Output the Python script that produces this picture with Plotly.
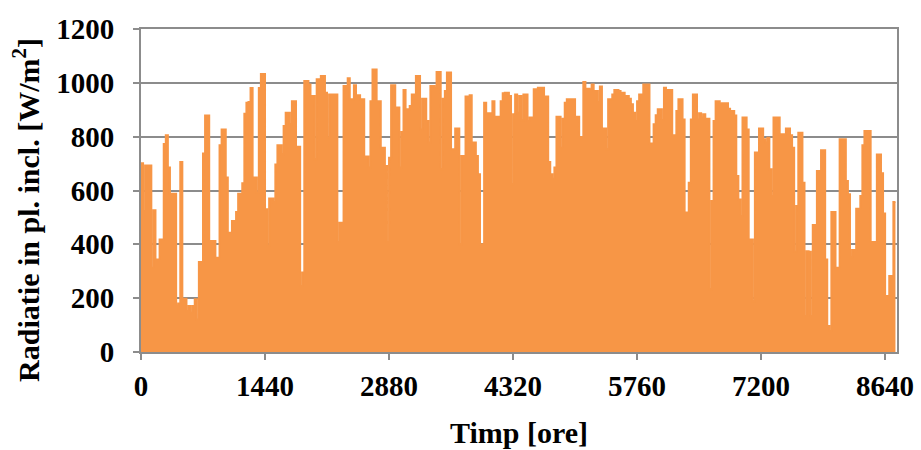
import plotly.graph_objects as go

# Daily peak irradiance on the inclined plane [W/m2], one value per day, by month
jan = [701, 524, 693, 693, 693, 313, 527, 344, 344, 418, 418, 773, 805, 685, 588, 588,
       588, 173, 180, 706, 198, 198, 152, 171, 146, 171, 196, 121, 334, 334, 737]
feb = [879, 879, 412, 412, 412, 350, 350, 768, 827, 827, 648, 443, 443, 487, 487, 520,
       588, 588, 627, 885, 926, 929, 981, 648, 648, 592, 981, 1033]
mar = [1033, 530, 394, 570, 570, 555, 697, 768, 768, 734, 840, 889, 889, 846, 932, 932,
       763, 763, 245, 295, 1007, 1007, 994, 951, 951, 716, 1013, 1013, 1025, 1025, 963]
apr = [796, 957, 957, 957, 957, 409, 480, 480, 988, 988, 1017, 939, 939, 991, 954, 954,
       939, 939, 726, 726, 685, 932, 1050, 1050, 932, 932, 759, 759, 691, 409]
may = [722, 991, 991, 908, 908, 685, 817, 973, 902, 902, 914, 957, 957, 1025, 1025, 827,
       941, 941, 858, 778, 988, 988, 982, 1040, 1040, 679, 941, 970, 1038, 1038, 753]
jun = [753, 830, 830, 400, 728, 728, 949, 949, 954, 778, 778, 728, 660, 400, 400, 926,
       887, 887, 887, 932, 874, 874, 874, 932, 961, 963, 963, 951, 623, 883]
jul = [957, 889, 951, 861, 957, 957, 858, 871, 871, 976, 976, 982, 982, 982, 949, 949,
       706, 660, 644, 685, 874, 874, 759, 867, 926, 939, 939, 939, 939, 874, 874]
aug = [796, 799, 1003, 978, 978, 973, 994, 970, 970, 929, 986, 830, 830, 753, 939, 939,
       957, 973, 973, 970, 963, 963, 951, 951, 941, 920, 889, 858, 932, 957, 957]
sep = [994, 994, 994, 775, 775, 846, 880, 902, 902, 862, 982, 973, 973, 973, 805, 805,
       895, 939, 939, 864, 518, 518, 629, 864, 957, 957, 864, 887, 871, 883]
oct_ = [867, 867, 233, 561, 858, 932, 932, 920, 924, 924, 924, 904, 895, 895, 879, 654,
        567, 505, 871, 871, 827, 418, 418, 189, 741, 741, 830, 830, 790, 778, 796]
nov = [679, 580, 871, 871, 871, 809, 809, 809, 830, 830, 805, 759, 372, 542, 815, 815,
       629, 134, 374, 372, 134, 472, 472, 672, 672, 750, 750, 344, 97, 78]
dec = [520, 520, 313, 313, 790, 790, 790, 635, 586, 350, 379, 379, 532, 532, 580, 768,
       821, 821, 821, 409, 409, 409, 734, 734, 664, 515, 208, 208, 282, 282, 557]

x_ticks = [0, 1440, 2880, 4320, 5760, 7200, 8640]
y_ticks = [0, 200, 400, 600, 800, 1000, 1200]

daily_peak = jan + feb + mar + apr + may + jun + jul + aug + sep + oct_ + nov + dec
HOURS_PER_DAY = 24

# Step trace: each day holds its peak value across its 24 hours
hours = [d * HOURS_PER_DAY for d in range(len(daily_peak))] + [len(daily_peak) * HOURS_PER_DAY]
values = daily_peak + [daily_peak[-1]]

ORANGE = "#F79646"
GRID = "#8C8C8C"
FONT = "Liberation Serif"

fig = go.Figure()
fig.add_trace(go.Scatter(
    x=hours, y=values,
    mode="lines",
    line=dict(color=ORANGE, width=2, shape="hv"),
    fill="tozeroy",
    fillcolor=ORANGE,
    hoverinfo="skip",
    showlegend=False,
))

fig.update_layout(
    width=921, height=450,
    margin=dict(l=141, r=24, t=29, b=98, autoexpand=False),
    paper_bgcolor="white",
    plot_bgcolor="white",
    font=dict(family=FONT, size=29, color="black"),
)

fig.update_xaxes(
    range=[0, 8778],
    tickvals=x_ticks,
    ticktext=[str(v) for v in x_ticks],
    tickfont=dict(family=FONT, size=29, color="black", weight="bold"),
    ticks="outside", ticklen=6, tickwidth=2, tickcolor=GRID,
    ticklabelstandoff=1,
    automargin=False,
    showgrid=False, zeroline=False,
    showline=True, linecolor=GRID, linewidth=2, mirror=True,
)
fig.update_yaxes(
    range=[0, 1200],
    tickvals=y_ticks,
    tickfont=dict(family=FONT, size=29, color="black", weight="bold"),
    ticks="outside", ticklen=6, tickwidth=2, tickcolor=GRID,
    ticklabelstandoff=13,
    automargin=False,
    showgrid=True, gridcolor=GRID, gridwidth=2,
    zeroline=False,
    showline=True, linecolor=GRID, linewidth=2, mirror=True,
)

fig.add_annotation(
    text="Timp [ore]",
    xref="paper", yref="paper", x=0.5, y=0,
    xanchor="center", yanchor="top", yshift=-62,
    showarrow=False,
    font=dict(family=FONT, size=30, color="black", weight="bold"),
)
fig.add_annotation(
    text="Radiatie in pl. incl. [W/m<sup>2</sup>]",
    xref="paper", yref="paper", x=0, y=0.44,
    xanchor="center", yanchor="middle", xshift=-115,
    textangle=-90,
    showarrow=False,
    font=dict(family=FONT, size=30, color="black", weight="bold"),
)

fig.write_html("out.html")
